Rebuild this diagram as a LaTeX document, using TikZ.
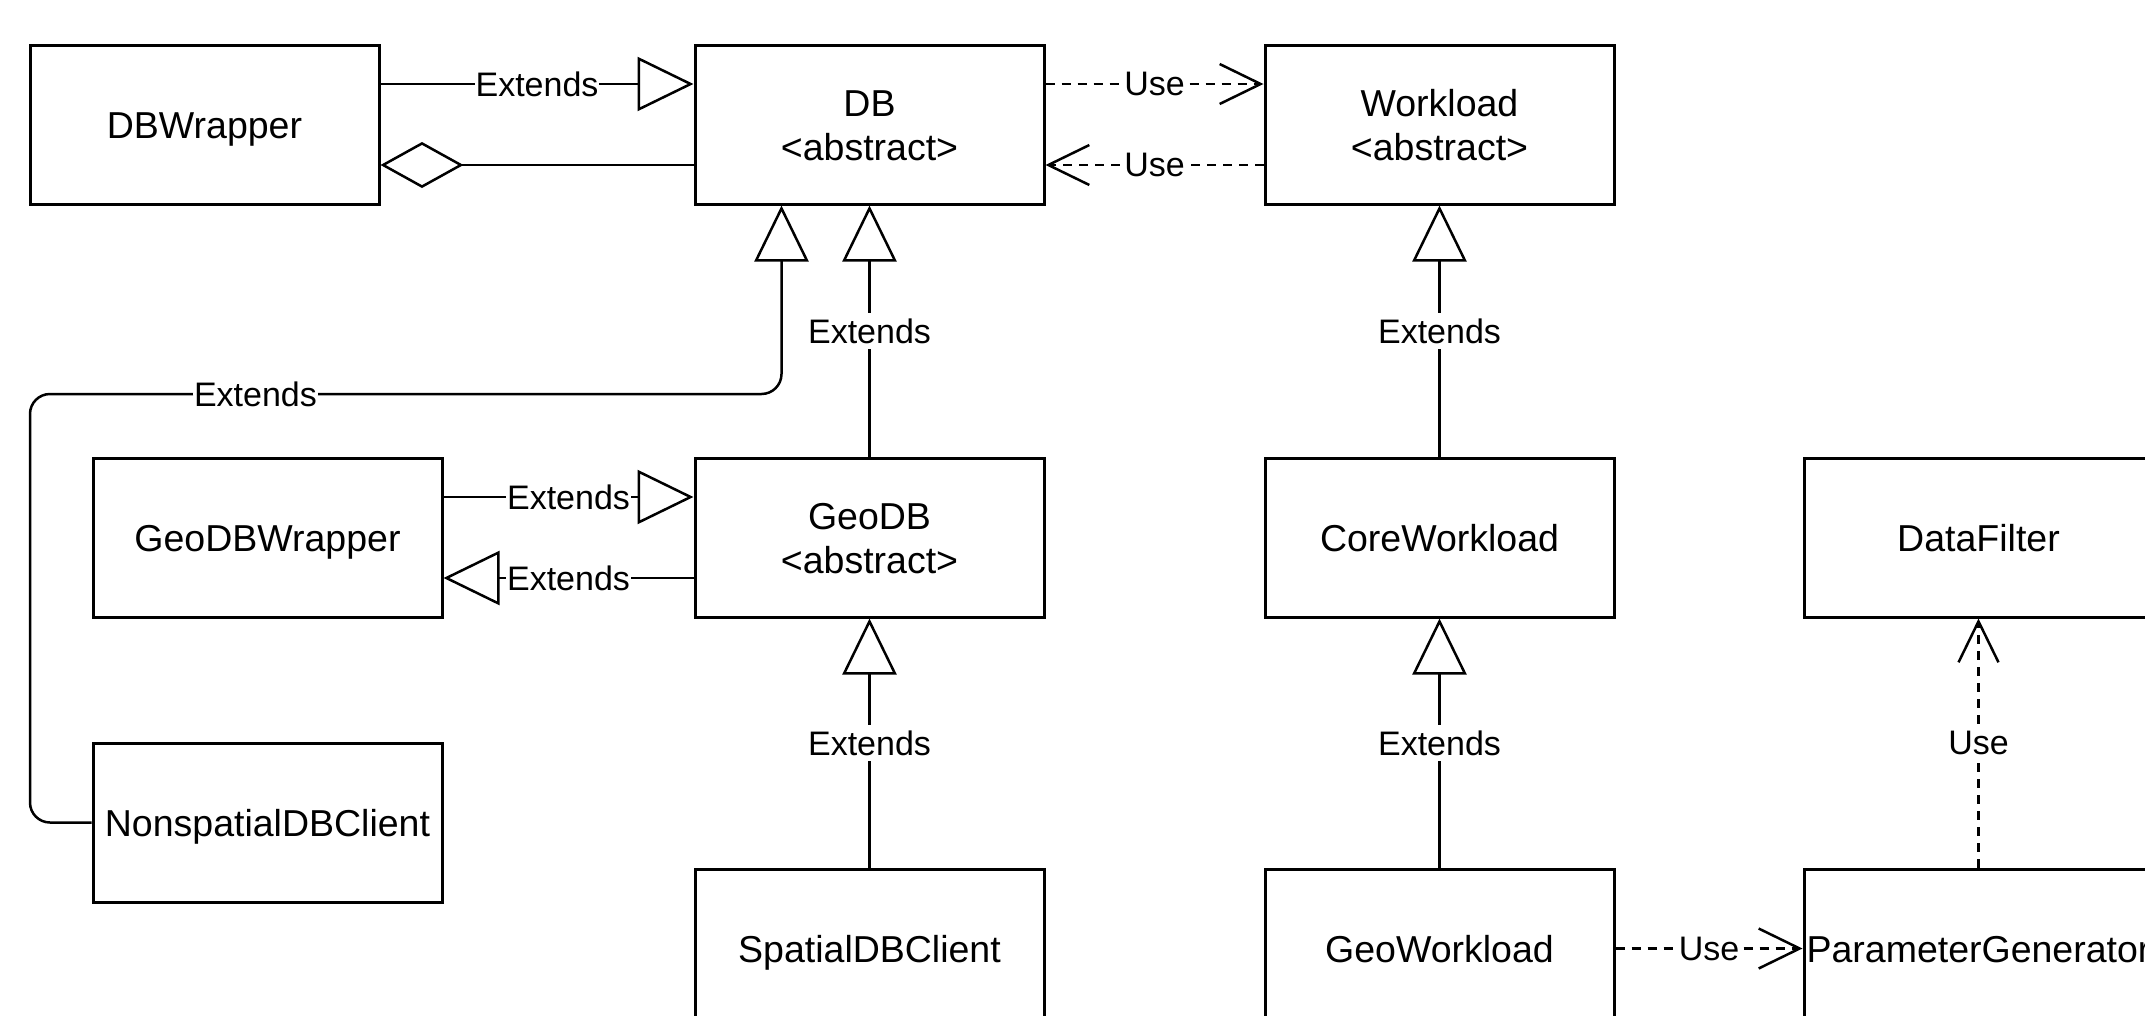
\documentclass[tikz,border=0pt]{standalone}
\usepackage{fontspec}
\setmainfont{Liberation Sans}
\usetikzlibrary{arrows.meta,calc}
% one line of class text, its depth ignored so that every name sits alike
\newcommand{\clsline}[1]{\raisebox{0pt}[27pt][0pt]{#1}}
\begin{document}
\begin{tikzpicture}[x=1pt,y=-1pt,
  cls/.style={draw, line width=3pt, minimum width=349pt, minimum height=159pt,
    inner sep=0pt, align=center, font=\fontsize{37.5}{44}\selectfont},
  conn/.style={line width=2.5pt},
  usedash/.style={conn, dash pattern=on 9pt off 7pt},
  lbl/.style={fill=white, inner xsep=1pt, inner ysep=6pt, font=\fontsize{34}{40}\selectfont},
  gen/.style={-{Triangle[open, length=56pt, width=54pt]}},
  dep/.style={-{Straight Barb[length=41pt, width=40pt]}},
  agg/.style={-{Diamond[open, length=83pt, width=46pt]}},
]
\useasboundingbox (0,0) rectangle (2145,1015);
\clip (0,0) rectangle (2145,1015);
\fill[white] (0,0) rectangle (2145,1015);

% classes
\node[cls] (dbw)  at (204.5,124.5) {\clsline{DBWrapper}};
\node[cls] (db)   at (869.5,124.5) {\clsline{DB}\\\clsline{<abstract>}};
\node[cls] (wl)   at (1439.5,124.5) {\clsline{Workload}\\\clsline{<abstract>}};
\node[cls] (gdbw) at (267.5,537.5) {\clsline{GeoDBWrapper}};
\node[cls] (gdb)  at (869.5,537.5) {\clsline{GeoDB}\\\clsline{<abstract>}};
\node[cls] (cwl)  at (1439.5,537.5) {\clsline{CoreWorkload}};
\node[cls] (df)   at (1978.5,537.5) {\clsline{DataFilter}};
\node[cls] (nsc)  at (267.5,822.5) {\clsline{NonspatialDBClient}};
\node[cls] (sc)   at (869.5,948.5) {\clsline{SpatialDBClient}};
\node[cls] (gwl)  at (1439.5,948.5) {\clsline{GeoWorkload}};
\node[cls] (pg)   at (1978.5,948.5) {\clsline{ParameterGenerator}};

% attachment points at quarter heights / widths
\coordinate (dbW1)  at ($(db.north west)!.25!(db.south west)$);
\coordinate (dbW3)  at ($(db.north west)!.75!(db.south west)$);
\coordinate (dbE1)  at ($(db.north east)!.25!(db.south east)$);
\coordinate (dbE3)  at ($(db.north east)!.75!(db.south east)$);
\coordinate (dbS1)  at ($(db.south west)!.25!(db.south east)$);
\coordinate (gdbW1) at ($(gdb.north west)!.25!(gdb.south west)$);
\coordinate (gdbW3) at ($(gdb.north west)!.75!(gdb.south west)$);
\coordinate (bend)  at (30,394);

% DB hierarchy
\draw[conn,gen] (dbw.east |- dbW1) -- node[lbl]{Extends} (dbW1);
\draw[conn,agg] (dbW3) -- (dbw.east |- dbW3);
\draw[usedash,dep] (dbE1) -- node[lbl]{Use} (wl.west |- dbE1);
\draw[usedash,dep] (wl.west |- dbE3) -- node[lbl]{Use} (dbE3);
\draw[conn,gen] (gdb.north) -- node[lbl]{Extends} (db.south);
\draw[conn,gen,rounded corners=20pt] (nsc.west) -- (nsc.west -| bend) -- (bend)
  -- node[lbl,pos=.3]{Extends} (bend -| dbS1) -- (dbS1);
\draw[conn,gen] (gdbw.east |- gdbW1) -- node[lbl]{Extends} (gdbW1);
\draw[conn,gen] (gdbW3) -- node[lbl]{Extends} (gdbw.east |- gdbW3);
\draw[conn,gen] (sc.north) -- node[lbl]{Extends} (gdb.south);

% workload hierarchy
\draw[conn,gen] (cwl.north) -- node[lbl]{Extends} (wl.south);
\draw[conn,gen] (gwl.north) -- node[lbl]{Extends} (cwl.south);
\draw[usedash,dep] (pg.north) -- node[lbl]{Use} (df.south);
\draw[usedash,dep] (gwl.east) -- node[lbl]{Use} (pg.west);
\end{tikzpicture}
\end{document}
